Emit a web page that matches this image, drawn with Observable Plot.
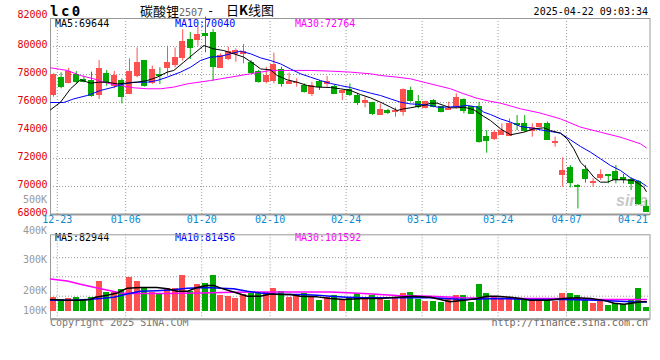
<!DOCTYPE html>
<html><head><meta charset="utf-8">
<script src="https://cdn.jsdelivr.net/npm/d3@7"></script>
<script src="https://cdn.jsdelivr.net/npm/@observablehq/plot@0.6"></script>
<style>
body{margin:0;background:#fff;}
#c{position:relative;width:660px;height:360px;overflow:hidden;font-family:"DejaVu Sans Mono",monospace;}
#c svg{position:absolute;left:0;top:0;}
.t{position:absolute;white-space:pre;font-size:10px;line-height:12px;font-family:"DejaVu Sans Mono",monospace;}
</style></head><body><div id="c"></div>
<script>
// ---- data ----
const dateLabels = ["12-23","01-06","01-20","02-10","02-24","03-10","03-24","04-07","04-21"];
const dateIndex  = [0,9,19,28,38,48,58,67,77];
const priceTicks = [82000,80000,78000,76000,74000,72000,70000,68000];

const open  = [76550,77740,77400,77980,77640,77570,76550,78050,77170,77570,
               76620,77880,78950,77400,78000,78480,78710,79190,80500,80430,
               80900,80980,78500,79120,79480,79480,78810,78170,77450,77570,
               78330,77330,77360,77210,76620,77450,77330,77100,76670,76860,
               76500,75950,75950,75120,75380,75330,75310,76810,76020,75620,
               76140,75670,75500,75670,76190,75670,75700,73520,73400,73710,
               73640,74480,74480,74000,74240,74480,73100,70790,71330,70070,
               71190,70240,70620,70790,71020,70620,70430,70310,68520];
const high  = [78050,78120,78450,78210,77880,78170,79000,78290,78210,77690,
               79120,79900,79000,78600,78480,80020,79900,81200,81000,81450,
               82100,81210,79480,79950,79830,80140,79000,78290,78520,79520,
               78520,78100,77690,77330,77450,77570,77860,77220,76860,77330,
               76620,76380,76020,75900,75520,75620,76980,77100,76500,76090,
               76190,75710,76020,76620,76260,75710,76020,74000,74000,74480,
               74830,75070,75070,74480,74480,74600,73520,72050,71500,70140,
               71500,70550,71190,70790,71500,70860,70620,70430,69000];
const low   = [76380,76980,77330,77330,77400,76380,76210,77170,76980,75900,
               76550,77760,77100,77290,77290,77880,78480,78950,79070,80020,
               79550,77520,78480,79000,78880,78760,78050,77380,77330,77330,
               77100,77290,77100,76670,76430,76860,77100,76570,76140,76430,
               75790,75620,75070,75070,75140,74950,75020,76020,75550,75550,
               75620,75260,75430,75550,75190,75140,73100,72380,73290,73640,
               73640,74000,73880,73520,74190,73280,72810,69950,69900,68400,
               70240,69950,70430,70190,70190,70190,69710,68640,68170];
const close = [77930,77100,78210,77450,77500,76450,78400,77400,77860,76380,
               78210,78830,77170,78290,77880,78830,79190,80330,79900,80810,
               80740,78520,79300,79600,79670,79640,78100,77450,77860,78690,
               77330,77500,77380,76740,77210,77140,77450,76620,76810,76570,
               75950,76140,75190,75430,75240,75380,76860,76100,75710,76020,
               75710,75310,75550,76310,75380,75190,73200,73240,73810,73950,
               74480,74380,73950,74190,74480,73330,73170,71140,70240,69950,
               70550,70310,70790,70740,70430,70480,70190,68760,68170];
const volume = [122500,103300,111700,122500,103300,122500,255800,166700,166700,186700,
                289200,255800,200000,166700,150000,200000,200000,305800,172500,233300,
                241700,305800,139200,130800,108300,145000,150000,158300,158300,200000,
                172500,122500,136700,155800,122500,95000,116700,133300,95000,122500,
                150000,116700,139200,111700,95000,116700,155800,166700,103300,89200,
                83300,72500,103300,139200,139200,72500,233300,155800,122500,111700,
                116700,103300,95000,95000,83300,111700,89200,155800,150000,139200,
                95000,66700,83300,47500,66700,61700,95000,200000,33300];

// moving-average curves as read: [position index, value]
const ma5 = [[-0.39,75480],[0.92,76020],[2.24,76980],[3.55,77620],[4.87,77380],[5.96,77450],[7.07,77450],[8.38,77330],[9.47,77380],[11.0,77450],[12.33,77570],[13.64,77810],[14.96,78170],[15.83,78290],[17.14,78880],[18.46,79480],[19.78,80070],[21.09,79830],[22.41,79710],[23.72,79480],[25.04,79240],[26.36,78760],[27.24,78400],[28.55,78330],[29.43,77930],[30.75,77620],[32.07,77450],[33.38,77210],[34.7,77100],[36.45,77070],[37.76,76980],[39.08,76860],[40.39,76570],[41.71,76330],[43.03,76020],[44.34,75670],[45.22,75430],[46.1,75550],[46.97,75620],[47.85,75710],[48.72,75790],[49.6,75950],[50.49,75950],[51.36,75790],[52.24,75620],[53.12,75620],[53.99,75670],[55.3,75480],[56.62,75000],[57.5,74710],[58.82,74120],[60.13,73690],[61.89,73880],[63.2,74120],[64.51,74190],[65.39,74000],[66.71,73810],[67.59,73400],[68.46,72690],[69.34,71740],[70.22,71260],[71.09,70670],[71.97,70310],[72.86,70310],[73.72,70480],[75.04,70480],[76.36,70430],[77.67,69950],[78,69644]];
const ma10 = [[-0.39,76000],[1.36,76000],[2.67,76260],[4.43,76500],[6.18,76860],[7.93,77100],[9.25,77330],[10.57,77450],[12.33,77450],[13.64,77570],[14.96,77810],[16.71,78170],[18.03,78520],[19.34,79000],[20.66,79240],[21.97,79290],[23.29,79480],[24.6,79670],[25.92,79480],[27.24,79190],[28.55,79000],[29.87,78760],[31.18,78400],[32.5,78050],[33.82,77810],[35.13,77570],[36.45,77360],[37.76,77210],[39.08,77070],[40.39,76860],[41.71,76670],[43.03,76500],[44.34,76260],[45.66,76020],[46.97,75900],[48.29,75860],[49.6,75790],[50.49,75670],[51.8,75670],[53.12,75710],[54.43,75790],[55.75,75670],[56.62,75310],[57.5,75140],[58.82,74830],[60.13,74600],[61.45,74290],[62.76,74190],[64.08,74050],[65.39,73930],[66.71,73810],[68.03,73330],[69.34,72860],[70.66,72450],[71.97,71980],[73.29,71500],[74.61,71140],[75.92,70620],[77.24,70310],[78,70040]];
const ma30 = [[-0.39,78480],[1.8,78290],[3.55,77930],[5.3,77690],[7.07,77380],[8.82,77210],[10.57,77050],[12.33,76980],[14.08,76980],[15.83,77100],[17.59,77330],[20.66,77570],[23.29,77810],[25.92,78050],[28.55,78290],[31.18,78290],[33.82,78290],[36.45,78240],[39.08,78170],[41.71,78050],[43.03,77930],[45.22,77810],[46.97,77690],[48.72,77450],[50.49,77210],[52.24,76980],[53.99,76620],[55.75,76300],[57.5,76080],[58.82,75950],[61.45,75550],[64.08,75240],[66.71,74830],[69.34,74240],[71.97,73880],[74.61,73520],[77.24,73050],[78,72764]];
const vma5 = [[-0.39,103000],[1.8,95000],[3.55,95000],[4.87,103000],[5.53,122500],[7.07,139000],[8.38,158000],[9.7,200000],[11.45,206000],[13.6,206000],[15,195000],[16.3,172500],[17.6,172500],[18.9,206000],[20.2,222500],[21.1,222500],[22,200000],[23.7,167000],[25.5,131000],[27.2,131000],[28.55,150000],[29.9,145000],[31.2,145000],[32.5,131000],[34.7,125000],[36.45,111700],[38.2,103000],[40.8,111700],[43.03,111700],[45.2,122500],[47.4,131000],[49.6,122500],[50.9,103000],[52.2,83000],[54,95000],[55.75,111700],[57.1,131000],[58.3,131000],[60.1,122500],[61.5,111700],[62.7,95000],[65,95000],[67.1,111700],[68.9,116700],[70.7,111700],[72.4,95000],[73.8,70000],[75.1,61700],[76,70000],[77.3,83000],[78,82944]];
const vma10 = [[-0.39,95000],[2.67,95000],[4.43,103000],[6.18,111700],[7.93,122500],[9.7,150000],[11.45,172500],[13.6,178000],[15.83,186700],[17.6,200000],[20.2,206000],[22,200000],[23.7,195000],[25.5,172500],[27.2,158000],[29,150000],[30.75,145000],[32.5,145000],[34.7,140000],[36.45,131000],[38.6,122500],[40.8,116700],[45.2,116700],[49.6,116700],[54,103000],[58.3,111700],[62.7,103000],[67.1,103000],[71.5,95000],[75.9,83000],[78,81456]];
const vma30 = [[-0.39,278000],[1.8,261700],[3.55,233000],[4.87,214000],[6.18,195000],[7.5,178000],[8.8,158000],[10.6,155000],[12.8,153000],[15,153000],[19.3,158000],[23.7,164000],[28.1,167000],[32.5,167000],[36.45,167000],[40.8,153000],[45.2,136700],[49.6,131000],[54,116700],[58.3,111700],[62.7,111700],[67.1,111700],[71.5,103000],[78,101592]];
const volGrid = [461700,297500,130800];

// ---- build ----
const RED = "#ff5050", GREEN = "#00a800", GRID = "#999";
const candles = open.map((o,i)=>({i, o, h:high[i], l:low[i], c:close[i], v:volume[i],
  col: close[i] > open[i] ? RED : (close[i] < open[i] ? GREEN : RED)}));
const xDomain = [-0.395, 78.487];
const half = 0.395;
const gridX = dateIndex.slice(0,-1).map(d=>d+0.5);
const fontF = "DejaVu Sans Mono";
const fg = {fontFamily: fontF, fontSize: 10};

const main = Plot.plot({
  width: 660, height: 360,
  marginTop: 18, marginBottom: 146, marginLeft: 50, marginRight: 10.5,
  x: {domain: xDomain, axis: null},
  y: {domain: [68000, 82000], axis: null},
  style: {background: "transparent", overflow: "visible"},
  marks: [
    Plot.ruleY(priceTicks.slice(1,-1), {stroke: GRID, strokeDasharray: "1,2"}),
    Plot.ruleX(gridX, {stroke: GRID, strokeDasharray: "1,2"}),
    Plot.frame({stroke: GRID}),
    Plot.ruleY([68000], {stroke: GRID, strokeWidth: 2}),
    Plot.text(priceTicks.filter(t=>t<82000), {y: d=>d, text: d=>String(d), frameAnchor: "left", textAnchor: "end", dx: -3, dy: -1.5, fill: "#e00000", ...fg}),
    Plot.text([82000], {y: d=>d, text: d=>String(d), frameAnchor: "left", textAnchor: "end", dx: -3, dy: -4, fill: "#e00000", ...fg}),
    Plot.text(dateLabels.slice(0,-1), {x: (d,i)=>dateIndex[i]+0.5, text: d=>d, frameAnchor: "bottom", dy: 8, fill: "#0a88d0", ...fg}),
    Plot.text(dateLabels.slice(-1), {x: dateIndex[dateIndex.length-1]+0.5, text: d=>d, frameAnchor: "bottom", dy: 8, dx: 5.5, textAnchor: "end", fill: "#0a88d0", ...fg}),
    Plot.ruleX(candles, {x: "i", y1: "l", y2: "h", stroke: "col"}),
    Plot.rect(candles, {x1: d=>d.i-half, x2: d=>d.i+half, y1: "o", y2: "c", fill: "col", insetTop: -0.5, insetBottom: -0.5, shapeRendering: "crispEdges"}),
    Plot.line(ma30, {x: d=>d[0], y: d=>d[1], stroke: "#ff00ff", strokeWidth: 1}),
    Plot.line(ma10, {x: d=>d[0], y: d=>d[1], stroke: "#0000ff", strokeWidth: 1}),
    Plot.line(ma5, {x: d=>d[0], y: d=>d[1], stroke: "#000", strokeWidth: 1})
  ]
});

const volTop = 658000, volBottom = -66700;
const vol = Plot.plot({
  width: 660, height: 360,
  marginTop: 234.3, marginBottom: 41.3, marginLeft: 50, marginRight: 10.5,
  x: {domain: xDomain, axis: null},
  y: {domain: [volBottom, volTop], axis: null},
  style: {background: "transparent", overflow: "visible"},
  marks: [
    Plot.ruleY(volGrid, {stroke: GRID, strokeDasharray: "1,2"}),
    Plot.ruleX(gridX, {stroke: GRID, strokeDasharray: "1,2"}),
    Plot.frame({stroke: GRID}),
    Plot.ruleY([volBottom], {stroke: GRID, strokeWidth: 2}),
    Plot.rect(candles, {x1: d=>d.i-half, x2: d=>d.i+half, y1: 0, y2: "v", fill: "col", shapeRendering: "crispEdges"}),
    Plot.line(vma30, {x: d=>d[0], y: d=>d[1], stroke: "#ff00ff", strokeWidth: 1.5}),
    Plot.line(vma10, {x: d=>d[0], y: d=>d[1], stroke: "#0000ff", strokeWidth: 1.5}),
    Plot.line(vma5, {x: d=>d[0], y: d=>d[1], stroke: "#000", strokeWidth: 1.5})
  ]
});

const c = document.getElementById("c");
function txt(s, css){ const d=document.createElement("div"); d.className="t"; d.innerHTML=s; Object.assign(d.style, css); c.appendChild(d); return d; }
// header
txt("lc0", {left:"50px", top:"3px", fontSize:"14px", fontWeight:"bold", lineHeight:"16px", letterSpacing:"2.5px"});
txt('<span style="font-family:\'Noto Sans CJK SC\';font-size:13px">碳酸锂</span><span style="color:#666">2507</span>', {left:"140px", top:"3px", lineHeight:"16px"});
txt('-', {left:"207px", top:"3px", fontSize:"12px", lineHeight:"16px"});
txt('<span style="font-family:\'Noto Sans CJK SC\';font-size:13px">日<b>K</b>线图</span>', {left:"226px", top:"2px", lineHeight:"16px"});
txt("2025-04-22 09:03:34", {right:"12px", top:"6px", color:"#000"});
// legends
txt("MA5:69644", {left:"55px", top:"18px", color:"#000"});
txt("MA10:70040", {left:"175px", top:"18px", color:"#0000ff"});
txt("MA30:72764", {left:"295px", top:"18px", color:"#ff00ff"});
txt("MA5:82944", {left:"55px", top:"232px", color:"#000"});
txt("MA10:81456", {left:"175px", top:"232px", color:"#0000ff"});
txt("MA30:101592", {left:"295px", top:"232px", color:"#ff00ff"});
// volume axis labels
const volLabels = [["500K",200],["400K",231],["300K",260],["200K",290.5],["100K",310.5]];
volLabels.forEach(([s,y])=>txt(s, {right:(660-47)+"px", top:(y-6)+"px", color:"#999"}));
// watermark + footer
txt("sina", {left:"616px", top:"193px", fontFamily:"'Liberation Sans',Arial", fontStyle:"italic", fontWeight:"bold", fontSize:"16px", lineHeight:"16px", color:"#c8c8c8"});
txt("Copyright 2025 SINA.COM", {left:"50px", top:"317px", color:"#777"});
txt("http://finance.sina.com.cn", {right:"12px", top:"317px", color:"#666"});

c.appendChild(main);
c.appendChild(vol);
</script></body></html>
